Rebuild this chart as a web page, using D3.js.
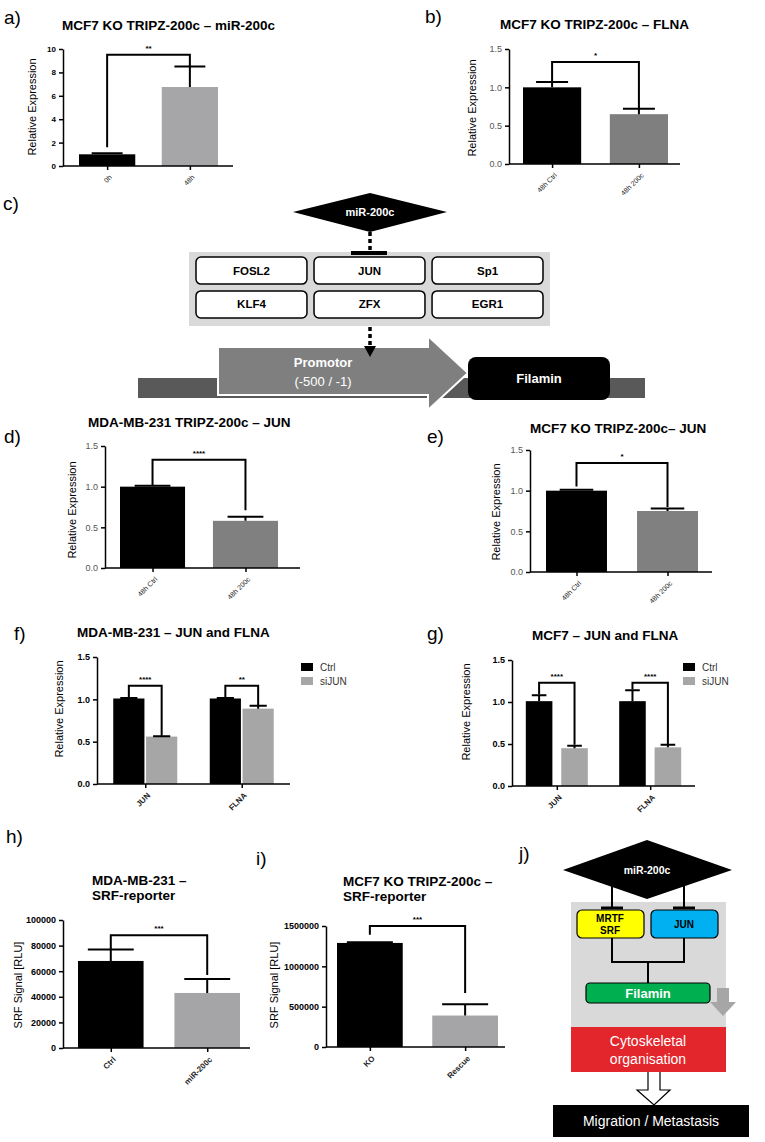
<!DOCTYPE html>
<html>
<head>
<meta charset="UTF-8" />
<title>miR-200c / JUN / Filamin figure</title>
<script src="https://d3js.org/d3.v7.min.js"></script>
<style>
  body { margin: 0; background: #fff; }
  text { font-family: "Liberation Sans", Arial, sans-serif; }
  .title { font-size: 13.5px; font-weight: bold; }
  .plabel { font-size: 19px; }
  .ylab { font-size: 11px; }
  .axis path, .axis line { stroke: #000; stroke-width: 1.5; }
</style>
</head>
<body>
<script>
  // values
  const aCats = ["0h", "48h"];
  const aVals = [1.0, 6.75];
  const aErr = [1.1, 8.5];

  const bCats = ["48h Ctrl", "48h 200c"];
  const bVals = [1.0, 0.65];
  const bErr = [1.07, 0.72];

  const dCats = ["48h Ctrl", "48h 200c"];
  const dVals = [1.0, 0.58];
  const dErr = [1.01, 0.63];

  const eCats = ["48h Ctrl", "48h 200c"];
  const eVals = [1.0, 0.75];
  const eErr = [1.01, 0.78];

  const genes = ["JUN", "FLNA"];
  const groups = ["Ctrl", "siJUN"];
  const fVals = [[1.01, 0.56], [1.01, 0.89]];
  const fErr = [[1.015, 0.565], [1.015, 0.925]];
  const gVals = [[1.01, 0.45], [1.01, 0.46]];
  const gErr = [[1.08, 0.48], [1.14, 0.49]];

  const hCats = ["Ctrl", "miR-200c"];
  const hVals = [68000, 43000];
  const hErr = [77000, 54000];

  const iCats = ["KO", "Rescue"];
  const iVals = [1290000, 390000];
  const iErr = [1300000, 530000];

  const aTicks = [0, 2, 4, 6, 8, 10];
  const relTicks = [0, 0.5, 1.0, 1.5];
  const hTicks = [0, 20000, 40000, 60000, 80000, 100000];
  const iTicks = [0, 500000, 1000000, 1500000];

  // significance brackets: [bracket height, left leg end, right leg end, stars]
  const aSig = [9.5, 1.6, 8.5, "**"];
  const bSig = [1.33, 1.08, 0.72, "*"];
  const dSig = [1.33, 1.02, 0.71, "****"];
  const eSig = [1.34, 1.05, 0.8, "*"];
  const fSig = [[1.16, 1.02, 0.57, "****"], [1.16, 1.02, 0.93, "**"]];
  const gSig = [[1.23, 1.09, 0.49, "****"], [1.23, 1.15, 0.5, "****"]];
  const hSig = [88000, 77000, 57000, "***"];
  const iSig = [1500000, 1390000, 670000, "***"];

  const tfNames = ["FOSL2", "JUN", "Sp1", "KLF4", "ZFX", "EGR1"];

  const W = 765, H = 1142;
  const svg = d3.select("body").append("svg").attr("width", W).attr("height", H);

  function label(x, y, t) {
    svg.append("text").attr("class", "plabel").attr("x", x).attr("y", y).text(t);
  }
  function title(x, y, lines) {
    lines.forEach((t, k) => svg.append("text").attr("class", "title")
      .attr("x", x).attr("y", y + k * 15).text(t));
  }
  function yLabel(x, y, t, size) {
    svg.append("text").attr("class", "ylab")
      .attr("transform", `translate(${x},${y}) rotate(-90)`)
      .attr("text-anchor", "middle").style("font-size", size + "px").text(t);
  }

  function bracket(g, xl, xr, y, s) {
    const [top, l, r, stars] = s;
    g.append("path")
      .attr("d", `M${xl},${y(l)}V${y(top)}H${xr}V${y(r)}`)
      .attr("fill", "none").attr("stroke", "#000").attr("stroke-width", 2);
    g.append("text").attr("x", (xl + xr) / 2).attr("y", y(top) - 4)
      .attr("text-anchor", "middle").style("font-size", "8px").style("font-weight", "bold")
      .text(stars);
  }

  function axes(g, o, y, xTickScale, xTicks) {
    const ya = g.append("g").attr("class", "axis").attr("transform", `translate(${o.x0},0)`)
      .call(d3.axisLeft(y).tickValues(o.ticks).tickFormat(o.fmt).tickSize(4).tickSizeOuter(0));
    ya.selectAll("text").style("font-size", o.tickFs + "px")
      .style("font-weight", o.tickBold ? "bold" : "normal")
      .attr("fill", o.tickColor);
    g.append("line").attr("x1", o.x0).attr("x2", o.x1).attr("y1", y(0)).attr("y2", y(0))
      .attr("stroke", "#000").attr("stroke-width", 1.5);
    const xa = g.append("g").attr("class", "axis").attr("transform", `translate(0,${y(0)})`)
      .call(d3.axisBottom(xTickScale).tickValues(xTicks).tickSize(4).tickSizeOuter(0));
    xa.select(".domain").remove();
    xa.selectAll("text")
      .attr("x", 0).attr("y", 0).attr("dy", "0.35em").attr("fill", "#222")
      .attr("transform", "translate(3,10) rotate(-45)")
      .style("text-anchor", "end").style("font-size", o.xFs + "px")
      .style("font-weight", o.xBold ? "bold" : "normal");
  }

  function drawBars(o) {
    const g = svg.append("g");
    const y = d3.scaleLinear().domain([0, o.yMax]).range([o.y0, o.y1]);
    const x = d3.scaleBand().domain(o.cats).range(o.band).paddingInner(o.pad);
    const bw = x.bandwidth();
    g.selectAll("rect.bar").data(o.cats).join("rect").attr("class", "bar")
      .attr("x", d => x(d)).attr("y", (d, i) => y(o.vals[i]))
      .attr("width", bw).attr("height", (d, i) => y(0) - y(o.vals[i]))
      .attr("fill", (d, i) => o.colors[i]);
    o.cats.forEach((c, i) => {
      const cx = x(c) + bw / 2, cw = bw * o.cap / 2;
      g.append("path")
        .attr("d", `M${cx},${y(o.vals[i])}V${y(o.errs[i])}M${cx - cw},${y(o.errs[i])}H${cx + cw}`)
        .attr("stroke", "#000").attr("stroke-width", 2).attr("fill", "none");
    });
    const center = d3.scalePoint().domain(o.cats)
      .range([x(o.cats[0]) + bw / 2, x(o.cats[1]) + bw / 2]);
    axes(g, o, y, center, o.cats);
    bracket(g, center(o.cats[0]), center(o.cats[1]), y, o.sig);
  }

  function drawGrouped(o) {
    const g = svg.append("g");
    const y = d3.scaleLinear().domain([0, o.yMax]).range([o.y0, o.y1]);
    const gx = d3.scalePoint().domain(genes).range([o.x0, o.x1]).padding(o.outerPad);
    const ix = d3.scaleBand().domain(groups).range([-o.half, o.half]).paddingInner(o.pad);
    const bw = ix.bandwidth();
    genes.forEach((gene, gi) => {
      groups.forEach((grp, k) => {
        const bx = gx(gene) + ix(grp), v = o.vals[gi][k], e = o.errs[gi][k];
        g.append("rect").attr("x", bx).attr("y", y(v)).attr("width", bw)
          .attr("height", y(0) - y(v)).attr("fill", o.colors[k]);
        const cx = bx + bw / 2, cw = bw * o.cap / 2;
        g.append("path")
          .attr("d", `M${cx},${y(v)}V${y(e)}M${cx - cw},${y(e)}H${cx + cw}`)
          .attr("stroke", "#000").attr("stroke-width", 2).attr("fill", "none");
      });
      bracket(g, gx(gene) + ix(groups[0]) + bw / 2, gx(gene) + ix(groups[1]) + bw / 2, y, o.sig[gi]);
    });
    axes(g, o, y, gx, genes);
    groups.forEach((grp, k) => {
      g.append("rect").attr("x", o.legX).attr("y", o.legY + k * 14).attr("width", 12).attr("height", 8)
        .attr("fill", o.colors[k]);
      g.append("text").attr("x", o.legX + 19).attr("y", o.legY + k * 14 + 8)
        .style("font-size", "10px").attr("fill", "#333").text(grp);
    });
  }

  const fmt1 = d3.format(".1f");
  const fmt0 = d3.format("d");

  // ---- a
  label(4, 24, "a)");
  title(62, 30, ["MCF7 KO TRIPZ-200c – miR-200c"]);
  yLabel(36, 107, "Relative Expression", 11);
  drawBars({ cats: aCats, vals: aVals, errs: aErr, colors: ["#000", "#a6a6a8"], yMax: 10,
    ticks: aTicks, fmt: fmt0, x0: 63, x1: 233, y0: 166, y1: 49, band: [79, 218], pad: 0.32, cap: 0.55,
    tickFs: 8, tickBold: true, tickColor: "#000", xFs: 7, xBold: false, sig: aSig });

  // ---- b
  label(425, 23, "b)");
  title(500, 29, ["MCF7 KO TRIPZ-200c – FLNA"]);
  yLabel(476, 108, "Relative Expression", 11);
  drawBars({ cats: bCats, vals: bVals, errs: bErr, colors: ["#000", "#7f7f7f"], yMax: 1.5,
    ticks: relTicks, fmt: fmt1, x0: 509, x1: 680, y0: 164, y1: 49, band: [523, 668], pad: 0.33, cap: 0.55,
    tickFs: 9, tickBold: false, tickColor: "#555", xFs: 7, xBold: false, sig: bSig });

  // ---- c diagram
  label(3, 210, "c)");
  const c = svg.append("g");
  c.append("rect").attr("x", 189).attr("y", 252).attr("width", 361).attr("height", 74).attr("fill", "#d9d9d9");
  const col = d3.scaleBand().domain([0, 1, 2]).range([196, 543]).paddingInner(0.06);
  const row = d3.scaleBand().domain([0, 1]).range([257, 318]).paddingInner(0.2);
  tfNames.forEach((n, k) => {
    const cx = col(k % 3), cy = row(Math.floor(k / 3));
    c.append("rect").attr("x", cx).attr("y", cy).attr("width", col.bandwidth()).attr("height", row.bandwidth())
      .attr("rx", 5).attr("fill", "#fff").attr("stroke", "#000").attr("stroke-width", 1.5);
    c.append("text").attr("x", cx + col.bandwidth() / 2).attr("y", cy + row.bandwidth() / 2 + 4)
      .attr("text-anchor", "middle").style("font-size", "11.5px").style("font-weight", "bold").text(n);
  });
  c.append("line").attr("x1", 370).attr("x2", 370).attr("y1", 232).attr("y2", 250)
    .attr("stroke", "#000").attr("stroke-width", 3.5).attr("stroke-dasharray", "4,3");
  c.append("rect").attr("x", 351).attr("y", 251).attr("width", 36).attr("height", 4).attr("fill", "#000");
  c.append("rect").attr("x", 138).attr("y", 378).attr("width", 507).attr("height", 20).attr("fill", "#595959");
  c.append("path").attr("d", "M218,347H428V336L468,373L428,410V395H218Z")
    .attr("fill", "#7f7f7f").attr("stroke", "#fff").attr("stroke-width", 2);
  c.append("text").attr("x", 323).attr("y", 367).attr("text-anchor", "middle").attr("fill", "#fff")
    .style("font-size", "13px").style("font-weight", "bold").text("Promotor");
  c.append("text").attr("x", 323).attr("y", 386).attr("text-anchor", "middle").attr("fill", "#fff")
    .style("font-size", "13px").text("(-500 / -1)");
  c.append("rect").attr("x", 468).attr("y", 357).attr("width", 142).attr("height", 43).attr("rx", 8).attr("fill", "#000");
  c.append("text").attr("x", 539).attr("y", 383).attr("text-anchor", "middle").attr("fill", "#fff")
    .style("font-size", "13px").style("font-weight", "bold").text("Filamin");
  c.append("line").attr("x1", 370).attr("x2", 370).attr("y1", 327).attr("y2", 346)
    .attr("stroke", "#000").attr("stroke-width", 3.5).attr("stroke-dasharray", "4,3");
  c.append("path").attr("d", "M364,346H376L370,357Z").attr("fill", "#000");
  c.append("path").attr("d", "M293,212L370,193L447,212L370,232Z").attr("fill", "#000");
  c.append("text").attr("x", 370).attr("y", 216).attr("text-anchor", "middle").attr("fill", "#fff")
    .style("font-size", "11px").style("font-weight", "bold").text("miR-200c");

  // ---- d
  label(4, 443, "d)");
  title(88, 427, ["MDA-MB-231 TRIPZ-200c – JUN"]);
  yLabel(76, 510, "Relative Expression", 11);
  drawBars({ cats: dCats, vals: dVals, errs: dErr, colors: ["#000", "#808080"], yMax: 1.5,
    ticks: relTicks, fmt: fmt1, x0: 105, x1: 300, y0: 568, y1: 446, band: [120, 278], pad: 0.3, cap: 0.55,
    tickFs: 9, tickBold: false, tickColor: "#555", xFs: 7, xBold: false, sig: dSig });

  // ---- e
  label(427, 443, "e)");
  title(530, 433, ["MCF7 KO TRIPZ-200c– JUN"]);
  yLabel(500, 512, "Relative Expression", 11);
  drawBars({ cats: eCats, vals: eVals, errs: eErr, colors: ["#000", "#808080"], yMax: 1.5,
    ticks: relTicks, fmt: fmt1, x0: 530, x1: 712, y0: 572, y1: 450, band: [546, 698], pad: 0.33, cap: 0.55,
    tickFs: 9, tickBold: false, tickColor: "#555", xFs: 7, xBold: false, sig: eSig });

  // ---- f
  label(14, 640, "f)");
  title(77, 637, ["MDA-MB-231 – JUN and FLNA"]);
  yLabel(63, 709, "Relative Expression", 11);
  drawGrouped({ vals: fVals, errs: fErr, colors: ["#000", "#a6a6a6"], yMax: 1.5, ticks: relTicks, fmt: fmt1,
    x0: 97, x1: 290, y0: 784, y1: 657, outerPad: 0.5, half: 32, pad: 0.05, cap: 0.55,
    tickFs: 9, tickBold: true, tickColor: "#000", xFs: 8, xBold: true, sig: fSig, legX: 301, legY: 663 });

  // ---- g
  label(427, 640, "g)");
  title(532, 640, ["MCF7 – JUN and FLNA"]);
  yLabel(470, 712, "Relative Expression", 11);
  drawGrouped({ vals: gVals, errs: gErr, colors: ["#000", "#a6a6a6"], yMax: 1.5, ticks: relTicks, fmt: fmt1,
    x0: 512, x1: 695, y0: 786, y1: 660, outerPad: 0.48, half: 31, pad: 0.25, cap: 0.55,
    tickFs: 9, tickBold: true, tickColor: "#000", xFs: 8, xBold: true, sig: gSig, legX: 683, legY: 663 });

  // ---- h
  label(6, 843, "h)");
  title(92, 885, ["MDA-MB-231 –", "SRF-reporter"]);
  yLabel(22, 985, "SRF Signal [RLU]", 11);
  drawBars({ cats: hCats, vals: hVals, errs: hErr, colors: ["#000", "#a5a5a7"], yMax: 100000,
    ticks: hTicks, fmt: fmt0, x0: 63, x1: 250, y0: 1048, y1: 920, band: [78, 240], pad: 0.32, cap: 0.7,
    tickFs: 9, tickBold: true, tickColor: "#000", xFs: 8, xBold: true, sig: hSig });

  // ---- i
  label(256, 865, "i)");
  title(343, 886, ["MCF7 KO TRIPZ-200c –", "SRF-reporter"]);
  yLabel(278, 985, "SRF Signal [RLU]", 11);
  drawBars({ cats: iCats, vals: iVals, errs: iErr, colors: ["#000", "#a5a5a7"], yMax: 1500000,
    ticks: iTicks, fmt: fmt0, x0: 326, x1: 505, y0: 1047, y1: 926, band: [337, 498], pad: 0.31, cap: 0.7,
    tickFs: 9, tickBold: true, tickColor: "#000", xFs: 8, xBold: true, sig: iSig });

  // ---- j diagram
  label(519, 860, "j)");
  const j = svg.append("g");
  j.append("rect").attr("x", 571).attr("y", 902).attr("width", 155).attr("height", 125).attr("fill", "#d9d9d9");
  j.append("rect").attr("x", 571).attr("y", 1027).attr("width", 155).attr("height", 45).attr("fill", "#e3262b");
  j.append("text").attr("x", 648).attr("y", 1046).attr("text-anchor", "middle").attr("fill", "#fff")
    .style("font-size", "14px").text("Cytoskeletal");
  j.append("text").attr("x", 648).attr("y", 1064).attr("text-anchor", "middle").attr("fill", "#fff")
    .style("font-size", "14px").text("organisation");
  // links from boxes to Filamin
  j.append("path").attr("d", "M612,938V962H684V938M648,962V983")
    .attr("fill", "none").attr("stroke", "#000").attr("stroke-width", 2);
  // inhibition lines
  j.append("path").attr("d", "M612,880V908M684,880V908")
    .attr("fill", "none").attr("stroke", "#000").attr("stroke-width", 2);
  j.append("path").attr("d", "M601,908H623M673,908H695")
    .attr("fill", "none").attr("stroke", "#000").attr("stroke-width", 3);
  j.append("rect").attr("x", 577).attr("y", 910).attr("width", 67).attr("height", 28).attr("rx", 5)
    .attr("fill", "#ffff00").attr("stroke", "#000").attr("stroke-width", 1.2);
  j.append("rect").attr("x", 651).attr("y", 910).attr("width", 67).attr("height", 28).attr("rx", 5)
    .attr("fill", "#00b0f0").attr("stroke", "#000").attr("stroke-width", 1.2);
  j.append("text").attr("x", 610).attr("y", 922).attr("text-anchor", "middle")
    .style("font-size", "10px").style("font-weight", "bold").text("MRTF");
  j.append("text").attr("x", 610).attr("y", 934).attr("text-anchor", "middle")
    .style("font-size", "10px").style("font-weight", "bold").text("SRF");
  j.append("text").attr("x", 684).attr("y", 928).attr("text-anchor", "middle")
    .style("font-size", "10px").style("font-weight", "bold").text("JUN");
  j.append("rect").attr("x", 586).attr("y", 983).attr("width", 124).attr("height", 20).attr("rx", 4)
    .attr("fill", "#00b050").attr("stroke", "#000").attr("stroke-width", 1.2);
  j.append("text").attr("x", 648).attr("y", 998).attr("text-anchor", "middle").attr("fill", "#fff")
    .style("font-size", "13px").style("font-weight", "bold").text("Filamin");
  j.append("path").attr("d", "M717,988H729V1002H736L723,1016L710,1002H717Z").attr("fill", "#a6a6a6");
  j.append("path").attr("d", "M563,870L647,840L732,870L647,899Z").attr("fill", "#000");
  j.append("text").attr("x", 647).attr("y", 874).attr("text-anchor", "middle").attr("fill", "#fff")
    .style("font-size", "10.5px").style("font-weight", "bold").text("miR-200c");
  j.append("path").attr("d", "M648,1072V1090H637L654,1105L670,1090H660V1072")
    .attr("fill", "#fff").attr("stroke", "#000").attr("stroke-width", 1.2);
  j.append("rect").attr("x", 553).attr("y", 1105).attr("width", 196).attr("height", 32).attr("fill", "#000");
  j.append("text").attr("x", 651).attr("y", 1126).attr("text-anchor", "middle").attr("fill", "#fff")
    .style("font-size", "14px").text("Migration / Metastasis");
</script>
</body>
</html>
